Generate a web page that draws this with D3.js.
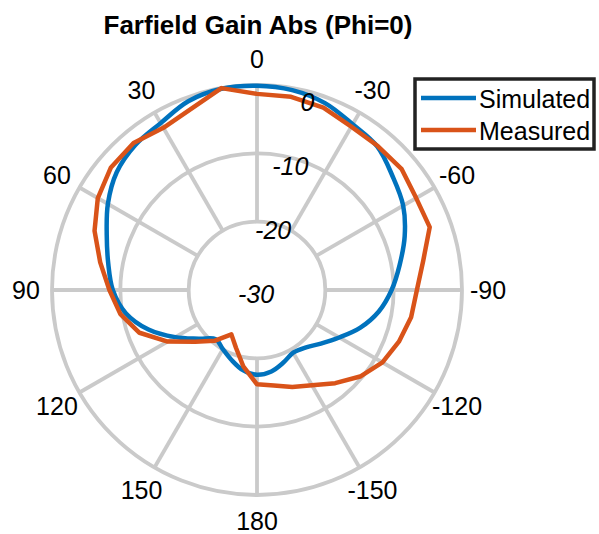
<!DOCTYPE html>
<html>
<head>
<meta charset="utf-8">
<script src="https://cdn.jsdelivr.net/npm/d3@7"></script>
<style>
  body { margin: 0; background: #fff; }
  text { font-family: 'Liberation Sans', Arial, sans-serif; }
</style>
</head>
<body>
<div id="chart"></div>
<script>
// angles in degrees, positive = counter-clockwise from top
let theta = [0, 10, 20, 30, 40, 50, 60, 70, 80, 90, 100, 110, 120, 130, 140, 150, 160, 170, 180,
  -170, -160, -150, -140, -130, -120, -110, -100, -90, -80, -70, -60, -50, -40, -30, -20, -10]

let simulated = [-0.1, -0.1, -0.6, -1.8, -2.3, -3.2, -4.8, -6.6, -7.9, -8.9, -10.5, -13.1, -16.2, -18.9, -20.6,
  -20.0, -19.1, -18.1, -17.6, -17.9, -18.7, -19.4, -19.0, -17.8, -16.1, -13.9, -11.9, -10.3, -8.8, -7.0,
  -5.3, -4.1, -2.6, -2.0, -0.9, -0.3]

let measured = [-1.3, 0.0, -1.8, -2.6, -1.9, -2.1, -3.1, -4.7, -6.7, -8.4, -9.7, -11.7, -14.9, -18.2, -20.3,
  -22.5, -21.0, -18.6, -16.2, -15.8, -14.9, -13.9, -12.2, -10.3, -8.8, -7.9, -7.1, -6.6, -5.3, -3.1,
  -3.1, -2.4, -2.5, -2.4, -1.6, -1.3]

let thetaTicks = [0, 30, 60, 90, 120, 150, 180, -150, -120, -90, -60, -30]
let rTicks = [-30, -20, -10, 0]
let seriesNames = ['Simulated', 'Measured']
let colors = ['#0072BD', '#D95319']

let width = 599
let height = 534
let cx = 257
let cy = 290
let radius = 205

let svg = d3.select('#chart')
  .append('svg')
  .attr('width', width)
  .attr('height', height)

let rScale = d3.scaleLinear().domain([-30, 0]).range([0, radius])

let toRad = d => -d * Math.PI / 180
function px(deg, r) { return cx - r * Math.sin(deg * Math.PI / 180) }
function py(deg, r) { return cy - r * Math.cos(deg * Math.PI / 180) }

let grid = svg.append('g')

// spokes
grid.selectAll('line')
  .data(thetaTicks)
  .enter()
  .append('line')
  .attr('x1', d => px(d, rScale(-20)))
  .attr('y1', d => py(d, rScale(-20)))
  .attr('x2', d => px(d, rScale(0)))
  .attr('y2', d => py(d, rScale(0)))
  .attr('stroke', '#cacaca')
  .attr('stroke-width', 3.8)

// rings
grid.selectAll('circle')
  .data(rTicks.filter(d => d > -30))
  .enter()
  .append('circle')
  .attr('cx', cx)
  .attr('cy', cy)
  .attr('r', d => rScale(d))
  .attr('fill', 'none')
  .attr('stroke', '#cacaca')
  .attr('stroke-width', 3.8)

// theta labels
svg.selectAll('.tlabel')
  .data(thetaTicks)
  .enter()
  .append('text')
  .attr('class', 'tlabel')
  .attr('x', d => px(d, 231))
  .attr('y', d => py(d, 231))
  .attr('text-anchor', 'middle')
  .attr('dominant-baseline', 'central')
  .attr('font-size', 25)
  .attr('fill', '#000')
  .text(d => d)

let plot = svg.append('g').attr('transform', 'translate(' + cx + ',' + cy + ')')

let simLine = d3.lineRadial()
  .angle((d, i) => toRad(theta[i]))
  .radius(d => rScale(d))
  .curve(d3.curveCatmullRomClosed)

let measLine = d3.lineRadial()
  .angle((d, i) => toRad(theta[i]))
  .radius(d => rScale(d))
  .curve(d3.curveLinearClosed)

plot.append('path')
  .attr('d', simLine(simulated))
  .attr('fill', 'none')
  .attr('stroke', colors[0])
  .attr('stroke-width', 4.5)
  .attr('stroke-linejoin', 'round')

plot.append('path')
  .attr('d', measLine(measured))
  .attr('fill', 'none')
  .attr('stroke', colors[1])
  .attr('stroke-width', 4.5)
  .attr('stroke-linejoin', 'round')

// r labels
svg.selectAll('.rlabel')
  .data(rTicks)
  .enter()
  .append('text')
  .attr('class', 'rlabel')
  .attr('x', d => px(-15, rScale(d) * 0.97) - 1)
  .attr('y', d => py(-15, rScale(d) * 0.97) + 4)
  .attr('text-anchor', 'middle')
  .attr('dominant-baseline', 'central')
  .attr('font-size', 25)
  .attr('font-style', 'italic')
  .attr('fill', '#000')
  .text(d => d)

// title
svg.append('text')
  .attr('x', 258)
  .attr('y', 34)
  .attr('text-anchor', 'middle')
  .attr('font-size', 26)
  .attr('font-weight', 'bold')
  .attr('fill', '#000')
  .text('Farfield Gain Abs (Phi=0)')

// legend
let legend = svg.append('g')
legend.append('rect')
  .attr('x', 415)
  .attr('y', 79)
  .attr('width', 179)
  .attr('height', 70)
  .attr('fill', '#fff')
  .attr('stroke', '#222')
  .attr('stroke-width', 3.5)

seriesNames.forEach(function(name, i) {
  let y = 98 + i * 32
  legend.append('line')
    .attr('x1', 421)
    .attr('x2', 476)
    .attr('y1', y)
    .attr('y2', y)
    .attr('stroke', colors[i])
    .attr('stroke-width', 4.5)
  legend.append('text')
    .attr('x', 479)
    .attr('y', y + 1)
    .attr('dominant-baseline', 'central')
    .attr('font-size', 25)
    .attr('fill', '#000')
    .text(name)
})
</script>
</body>
</html>
